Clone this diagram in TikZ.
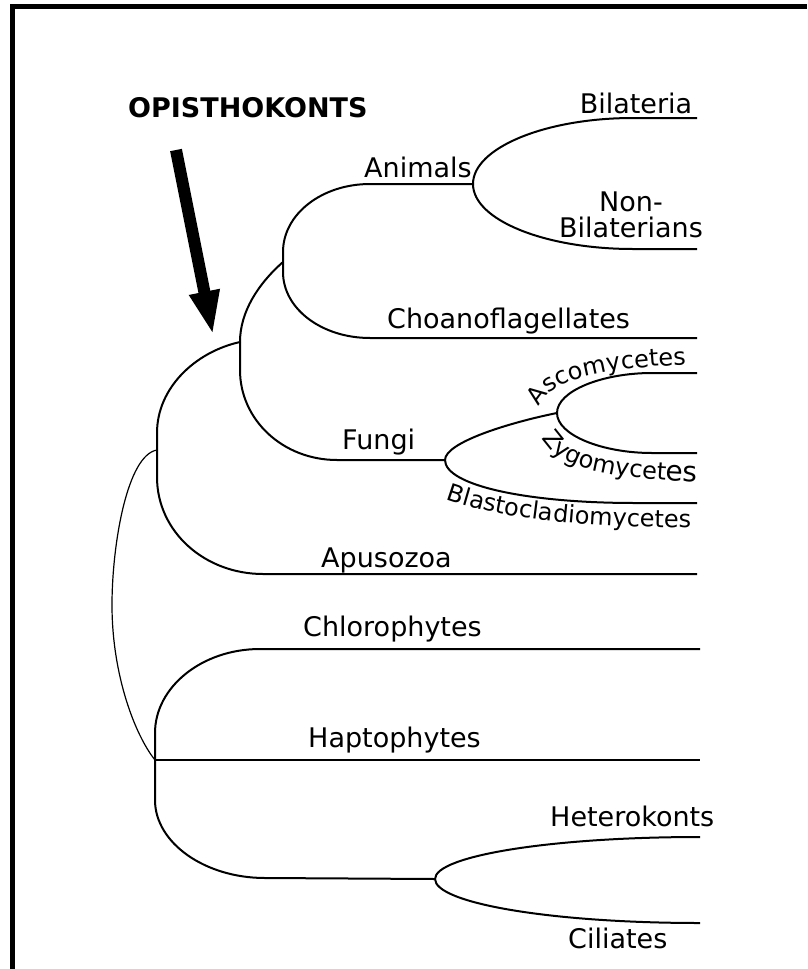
\documentclass[tikz,border=0pt]{standalone}
\usepackage{fontspec}
\setmainfont{DejaVu Sans}
\usetikzlibrary{arrows.meta, decorations.text}

\begin{document}
\begin{tikzpicture}[
  x=1pt, y=-1pt,
  branch/.style={line width=2pt},
  rootline/.style={line width=1.2pt},
  taxon/.style={font=\fontsize{27}{27}\selectfont, anchor=base west, inner sep=0pt},
  curvelbl/.style={decorate, decoration={text along path, text align=left,
      text={|\fontsize{24}{24}\selectfont|#1}}}
]
  \useasboundingbox (0,0) rectangle (807,969);
  % frame
  \draw[line width=4.5pt] (12.5,969) -- (12.5,6.5) -- (807,6.5);

  % inner nodes of the tree
  \coordinate (root) at (112,605);
  \coordinate (opa)  at (157,450);
  \coordinate (bik)  at (155,760);
  \coordinate (opk)  at (240,342);
  \coordinate (hol)  at (283,262);
  \coordinate (ani)  at (473,184);
  \coordinate (fun)  at (445,460);
  \coordinate (asz)  at (557,413);
  \coordinate (het)  at (435,879);
  % tips
  \coordinate (tBil) at (697,118);
  \coordinate (tNon) at (697,249);
  \coordinate (tCho) at (697,338);
  \coordinate (tAsc) at (697,373);
  \coordinate (tZyg) at (697,453);
  \coordinate (tBla) at (697,503);
  \coordinate (tApu) at (697,574);
  \coordinate (tChl) at (700,649);
  \coordinate (tHap) at (700,760);
  \coordinate (tHet) at (700,837);
  \coordinate (tCil) at (700,923);

  % root
  \draw[rootline] (opa) .. controls +(-30,5) and +(0,-60) .. (root)
                        .. controls +(0,70) and +(-20,-25) .. (bik);

  % opisthokonts + apusozoa
  \draw[branch] (opa) -- ++(0,-17) .. controls +(0,-45) and +(-45,10) .. (opk);
  \draw[branch] (opa) -- ++(0,27) .. controls +(0,55) and +(-58,0) .. ++(106,97) -- (tApu);
  \draw[branch] (opk) .. controls +(0,-30) and +(-25,22) .. (hol);
  \draw[branch] (opk) -- ++(0,28) .. controls +(0,50) and +(-54,0) .. ++(97,90) -- (fun);
  \draw[branch] (hol) -- ++(0,-10) .. controls +(0,-38) and +(-48,0) .. ++(87,-68) -- (ani);
  \draw[branch] (hol) -- ++(0,10) .. controls +(0,37) and +(-48,0) .. ++(87,66) -- (tCho);
  \draw[branch] (ani) .. controls +(0,-36) and +(-88,0) .. ++(160,-66) -- (tBil);
  \draw[branch] (ani) .. controls +(0,36) and +(-88,0) .. ++(160,65) -- (tNon);
  \draw[branch] (fun) .. controls +(0,-18) and +(-45,9) .. (asz);
  \draw[branch] (fun) .. controls +(0,25) and +(-110,0) .. ++(190,43) -- (tBla);
  \draw[branch] (asz) .. controls +(0,-22) and +(-50,0) .. ++(95,-40) -- (tAsc);
  \draw[branch] (asz) .. controls +(0,22) and +(-50,0) .. ++(95,40) -- (tZyg);

  % the other group
  \draw[branch] (bik) -- ++(0,-27) .. controls +(0,-46) and +(-58,0) .. ++(105,-84) -- (tChl);
  \draw[branch] (bik) -- (tHap);
  \draw[branch] (bik) -- ++(0,40) .. controls +(0,43) and +(-60,0) .. ++(110,78) -- (het);
  \draw[branch] (het) .. controls +(0,-23) and +(-150,0) .. (tHet);
  \draw[branch] (het) .. controls +(0,24) and +(-150,0) .. (tCil);

  % big arrow
  \coordinate (arrS) at (176,150);
  \coordinate (arrE) at (213,335);
  \draw[line width=12pt, -{Triangle[length=44pt, width=28pt]}] (arrS) -- (arrE);

  % labels
  \node[taxon, font=\fontsize{27}{27}\selectfont\bfseries] (lOpi) at (128,117) {OPISTHOKONTS};
  \node[taxon, anchor=base] (lBil)  at (636,113) {Bilateria};
  \node[taxon, anchor=base] (lNon1) at (631,211) {Non-};
  \node[taxon, anchor=base] (lNon2) at (631,237) {Bilaterians};
  \node[taxon] (lAni) at (364,177) {Animals};
  \node[taxon] (lCho) at (387,328) {Choanoflagellates};
  \node[taxon] (lFun) at (342,449) {Fungi};
  \node[taxon] (lApu) at (321,567) {Apusozoa};
  \node[taxon] (lChl) at (303,636) {Chlorophytes};
  \node[taxon] (lHap) at (308,747) {Haptophytes};
  \node[taxon] (lHet) at (550,826) {Heterokonts};
  \node[taxon] (lCil) at (568,948) {Ciliates};

  % labels bent along the fungi branches
  \path[curvelbl=Ascomycetes] (539,407) .. controls (550,382) and (590,367) .. (705,364);
  \path[curvelbl={Zygomycet|\fontsize{28}{28}\selectfont|es}] (542,438) .. controls (556,463) and (592,480) .. (715,482);
  \path[curvelbl=Blastocladiomycetes] (446,499) .. controls (490,515) and (560,528) .. (710,528);
\end{tikzpicture}
\end{document}
